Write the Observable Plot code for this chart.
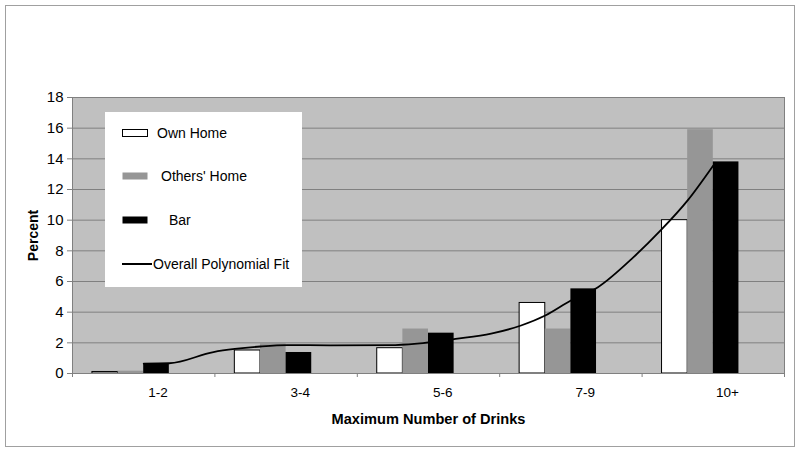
<!DOCTYPE html>
<html>
<head>
<meta charset="utf-8">
<script src="https://cdn.jsdelivr.net/npm/d3@7"></script>
<script src="https://cdn.jsdelivr.net/npm/@observablehq/plot@0.6"></script>
<style>
  html, body { margin: 0; padding: 0; background: #fff; }
  #wrap { position: relative; width: 800px; height: 455px; }
  #wrap svg { font-family: "Liberation Sans", Arial, sans-serif; }
  [aria-label="x-axis label"] text { font-weight: bold; font-size: 14.6px; }
  [aria-label="y-axis label"] text { font-weight: bold; font-size: 14px; }
  [aria-label="y-axis tick label"] text { font-size: 15px; }
  [aria-label="x-axis tick label"] text { font-size: 13.5px; }
</style>
</head>
<body>
<div id="wrap"></div>
<script>
// ---- data ----
const categories = ["1-2", "3-4", "5-6", "7-9", "10+"];
const series = ["Own Home", "Others' Home", "Bar"];
const ownHome    = [0.10, 1.50, 1.65, 4.60, 10.00];
const othersHome = [0.15, 1.95, 2.90, 2.90, 15.90];
const barVenue   = [0.65, 1.37, 2.63, 5.52, 13.80];
// polynomial fit curve, x in category units (0 = left edge of first category)
const fitX = [0.50, 0.68, 0.99, 1.14, 1.32, 1.51, 1.81, 2.23, 2.42, 2.69, 2.94, 3.15, 3.32, 3.50, 3.69, 3.94, 4.13, 4.32, 4.50];
const fitY = [0.65, 0.67, 1.40, 1.60, 1.76, 1.85, 1.84, 1.85, 1.95, 2.26, 2.60, 3.13, 3.78, 4.76, 5.63, 7.59, 9.33, 11.29, 13.57];
const yTicks = [0, 2, 4, 6, 8, 10, 12, 14, 16, 18];

const fills = ["#ffffff", "#969696", "#000000"];
const strokes = ["#000000", "none", "none"];
const barW = 0.18;

const values = [ownHome, othersHome, barVenue];
const rows = [];
categories.forEach((c, i) => {
  series.forEach((s, j) => {
    const center = i + 0.5;
    rows.push({cat: c, series: s, j, value: values[j][i],
      x1: center + (j - 2) * barW, x2: center + (j - 1) * barW});
  });
});
const fit = fitX.map((x, k) => ({x, y: fitY[k]}));
const labelPos = categories.map((c, i) => i + 0.6);

const chart = Plot.plot({
  width: 800,
  height: 455,
  marginLeft: 72,
  marginRight: 16,
  marginTop: 97,
  marginBottom: 82,
  style: {fontSize: "13px", fontFamily: "'Liberation Sans', Arial, sans-serif", color: "#000", background: "transparent"},
  x: {domain: [0, 5], label: null},
  y: {domain: [0, 18], label: null},
  marks: [
    Plot.frame({fill: "#c0c0c0", stroke: "none"}),
    Plot.gridY(yTicks, {stroke: "#808080", strokeOpacity: 1}),
    Plot.rect(rows, {x1: "x1", x2: "x2", y1: 0, y2: "value",
      fill: d => fills[d.j], stroke: d => strokes[d.j], strokeWidth: 1, inset: 0}),
    Plot.line(fit, {x: "x", y: "y", curve: "monotone-x", stroke: "#000", strokeWidth: 1.8}),
    Plot.ruleY([0], {stroke: "#808080"}),
    Plot.ruleX([0], {stroke: "#808080"}),
    Plot.ruleX([5], {stroke: "#808080"}),
    Plot.ruleY([18], {stroke: "#808080"}),
    Plot.axisY({ticks: yTicks, tickSize: 5, tickPadding: 4, stroke: "#808080", fontSize: 15,
      label: "Percent", labelAnchor: "center", labelOffset: 44, labelArrow: "none"}),
    Plot.axisX({ticks: [0, 1, 2, 3, 4, 5], tickSize: 4, tickFormat: () => "", stroke: "#808080", label: null}),
    Plot.axisX({ticks: labelPos, tickSize: 0, tickPadding: 14, fontSize: 13.5,
      tickFormat: (d, i) => categories[i],
      label: "Maximum Number of Drinks", labelAnchor: "center", labelOffset: 50, labelArrow: "none"})
  ]
});

const wrap = document.getElementById("wrap");
wrap.appendChild(chart);

// outer chart border and legend
const svg = d3.select(chart);
svg.append("rect").attr("x", 5.5).attr("y", 5.5).attr("width", 789).attr("height", 441)
  .attr("fill", "none").attr("stroke", "#a0a0a0");

const lg = svg.append("g").attr("font-size", 14).attr("text-anchor", "start")
  .attr("font-family", "'Liberation Sans', Arial, sans-serif");
lg.append("rect").attr("x", 105).attr("y", 112).attr("width", 197).attr("height", 175).attr("fill", "#fff");
const legendItems = [
  {label: series[0], type: "rect", j: 0, y: 133, tx: 157},
  {label: series[1], type: "rect", j: 1, y: 176, tx: 161},
  {label: series[2], type: "rect", j: 2, y: 220, tx: 169},
  {label: "Overall Polynomial Fit", type: "line", y: 264, tx: 153}
];
legendItems.forEach(it => {
  if (it.type === "rect") {
    lg.append("rect").attr("x", 122.5).attr("y", it.y - 3.5).attr("width", 25).attr("height", 7)
      .attr("fill", fills[it.j]).attr("stroke", it.j === 0 ? "#000" : "none");
  } else {
    lg.append("line").attr("x1", 122).attr("x2", 152).attr("y1", it.y).attr("y2", it.y)
      .attr("stroke", "#000").attr("stroke-width", 2);
  }
  lg.append("text").attr("x", it.tx).attr("y", it.y).attr("dy", "0.35em").text(it.label);
});
</script>
</body>
</html>
